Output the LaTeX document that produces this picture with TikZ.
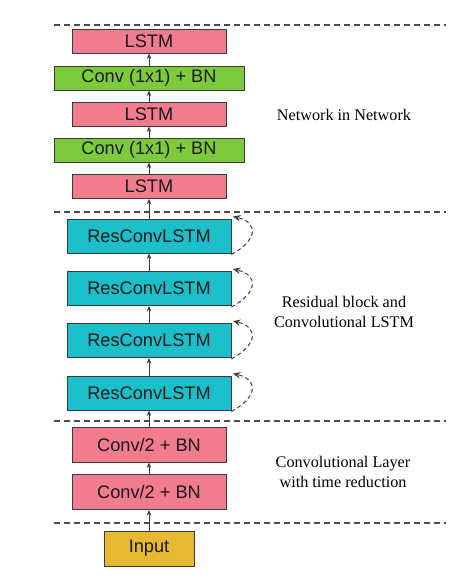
\documentclass[tikz,border=0pt]{standalone}
\usepackage{fontspec}
\setmainfont{Liberation Serif}
\setsansfont{Liberation Sans}
\usetikzlibrary{arrows.meta}
\definecolor{lstmpink}{HTML}{F27B8E}
\definecolor{convgreen}{HTML}{7DCB3C}
\definecolor{rescyan}{HTML}{1BBFC9}
\definecolor{inputgold}{HTML}{E8B830}
\definecolor{edgegray}{HTML}{3A3A3A}
\tikzset{
  blockbox/.style={draw=edgegray, line width=0.9pt, inner sep=0pt, anchor=center,
     font=\sffamily\fontsize{18.2}{21}\selectfont, text=black!90},
  lstmbox/.style={blockbox, fill=lstmpink, minimum width=154pt, minimum height=24pt},
  convbox/.style={blockbox, fill=convgreen, minimum width=190pt, minimum height=24pt},
  resbox/.style={blockbox, fill=rescyan, minimum width=164pt, minimum height=34pt},
  redbox/.style={blockbox, fill=lstmpink, minimum width=154pt, minimum height=35pt},
  inbox/.style={blockbox, fill=inputgold, minimum width=90pt, minimum height=35pt},
  flow/.style={draw=edgegray, line width=0.9pt, -{Stealth[length=5.5pt,width=4.5pt]}},
  sep/.style={draw=black!70, line width=1.1pt, dash pattern=on 6pt off 4pt},
  selfloop/.style={draw=black!75, line width=1pt, dash pattern=on 4pt off 3pt, -{Stealth[length=7.5pt,width=6.5pt]}},
  grouplabel/.style={font=\rmfamily\fontsize{16.2}{20}\selectfont, align=center, text=black}
}
\begin{document}
\begin{tikzpicture}[x=1pt, y=-1pt]
\useasboundingbox (0,0) rectangle (467,587);
% separators
\coordinate (s1l) at (54,25);  \coordinate (s1r) at (446,25);
\coordinate (s2l) at (54,212); \coordinate (s2r) at (446,212);
\coordinate (s3l) at (54,421); \coordinate (s3r) at (446,421);
\coordinate (s4l) at (54,523); \coordinate (s4r) at (446,523);
\draw[sep] (s1l) -- (s1r);
\draw[sep] (s2l) -- (s2r);
\draw[sep] (s3l) -- (s3r);
\draw[sep] (s4l) -- (s4r);
% blocks
\node[lstmbox] (l1) at (149,41) {LSTM};
\node[convbox] (c1) at (149,78) {Conv (1x1) + BN};
\node[lstmbox] (l2) at (149,114) {LSTM};
\node[convbox] (c2) at (149,150) {Conv (1x1) + BN};
\node[lstmbox] (l3) at (149,186.5) {LSTM};
\node[resbox] (r1) at (149,236) {ResConvLSTM};
\node[resbox] (r2) at (149,288.5) {ResConvLSTM};
\node[resbox] (r3) at (149,340.5) {ResConvLSTM};
\node[resbox] (r4) at (149,393) {ResConvLSTM};
\node[redbox] (b1) at (149,444.5) {Conv/2 + BN};
\node[redbox] (b2) at (149,492) {Conv/2 + BN};
\node[inbox] (in) at (149,548.5) {Input};
% flow arrows
\draw[flow] (in) -- (b2);
\draw[flow] (b2) -- (b1);
\draw[flow] (b1) -- (r4);
\draw[flow] (r4) -- (r3);
\draw[flow] (r3) -- (r2);
\draw[flow] (r2) -- (r1);
\draw[flow] (r1) -- (l3);
\draw[flow] (l3) -- (c2);
\draw[flow] (c2) -- (l2);
\draw[flow] (l2) -- (c1);
\draw[flow] (c1) -- (l1);
% residual self loops
\foreach \r in {r1,r2,r3,r4}{
  \draw[selfloop] ([yshift=-1pt]\r.south east) .. controls +(26,-14) and +(26,6) .. ([xshift=1.5pt,yshift=2pt]\r.north east);
}
% group labels
\node[grouplabel] (g1) at (344,115) {Network in Network};
\node[grouplabel] (g2) at (344,312) {Residual block and\\Convolutional LSTM};
\node[grouplabel] (g3) at (343,472) {Convolutional Layer\\with time reduction};
\end{tikzpicture}
\end{document}
